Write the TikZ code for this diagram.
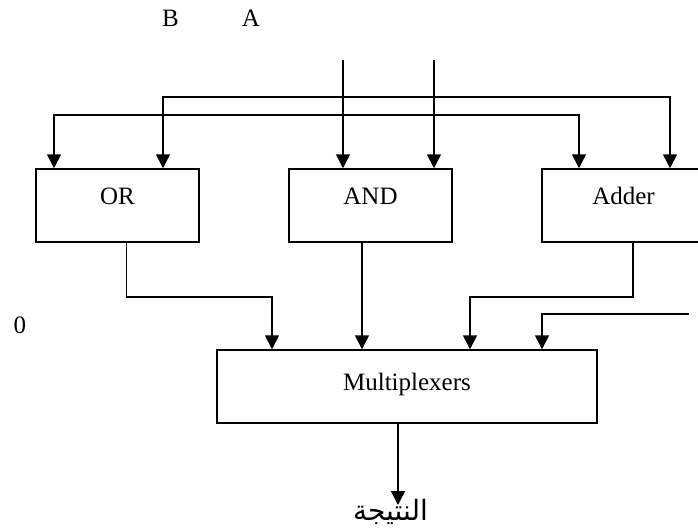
\documentclass[tikz,border=0pt]{standalone}
\usepackage{fontspec}
\setmainfont{Liberation Serif}
\newfontfamily\arabicfont[Script=Arabic]{DejaVu Sans}
\TeXXeTstate=1
\usetikzlibrary{arrows.meta}

\begin{document}
\begin{tikzpicture}[x=0.5pt,y=-0.5pt,font=\fontsize{12.5}{15}\selectfont,
  unit/.style={draw,line width=0.75pt,inner sep=0pt,minimum width=81.5pt,text height=17.5pt,text depth=19pt},
  sig/.style={line width=0.75pt,-{Triangle[width=7pt,length=7pt]}},
  bus/.style={line width=0.75pt,{Triangle[width=7pt,length=7pt]}-{Triangle[width=7pt,length=7pt]}}]
  \useasboundingbox (0,0) rectangle (698,531);
  % operand names
  \node (lblB) at (170.5,18.5) {B};
  \node (lblA) at (251,18.5) {A};
  \node (lblZ) at (20,325) {0};
  % function units
  \node[unit] (OR)  at (117.5,205.5) {OR};
  \node[unit] (AND) at (370.5,205.5) {AND};
  \node[unit] (Add) at (623.5,205.5) {Adder};
  \node[unit,minimum width=190pt,text height=20pt,text depth=16.5pt] (Mux) at (407,386.5) {Multiplexers};
  % operand lines and the two buses
  \coordinate (inL) at (343,60); \coordinate (inR) at (434,60);
  \draw[sig] (inL) -- (inL |- AND.north);
  \draw[sig] (inR) -- (inR |- AND.north);
  \coordinate (upL) at (163,97); \coordinate (upR) at (670,97);
  \coordinate (loL) at (54,115); \coordinate (loR) at (579,115);
  \draw[bus] (upL |- OR.north) -- (upL) -- (upR) -- (upR |- Add.north);
  \draw[bus] (loL |- OR.north) -- (loL) -- (loR) -- (loR |- Add.north);
  % unit outputs into the multiplexers
  \draw[sig] ([xshift=4.5pt]OR.south) -- ++(0,54) -| ([xshift=-67.5pt]Mux.north);
  \draw[sig] ([xshift=-4.25pt]AND.south) -- ([xshift=-4.25pt]AND.south |- Mux.north);
  \draw[sig] ([xshift=4.75pt]Add.south) -- ++(0,54) -| ([xshift=31.5pt]Mux.north);
  \coordinate (sel) at (689,314);
  \draw[sig] (sel) -| ([xshift=67.5pt]Mux.north);
  % result
  \coordinate (tip) at (398,505);
  \draw[sig] ([xshift=-4.5pt]Mux.south) -- (tip);
  \node[font=\arabicfont\fontsize{14}{16}\selectfont] (res) at (390.5,512) {\beginR النتيجة\endR};
\end{tikzpicture}
\end{document}
